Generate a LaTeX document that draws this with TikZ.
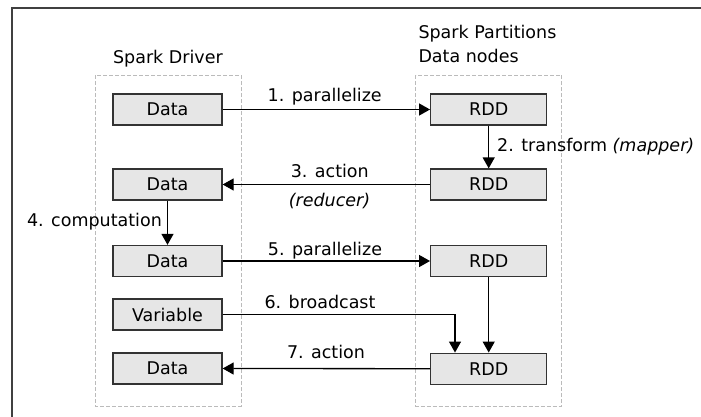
\documentclass[tikz,border=0pt]{standalone}
\usepackage{fontspec}
\setmainfont{DejaVu Sans}
\usetikzlibrary{arrows.meta}
\definecolor{boxfill}{HTML}{E6E6E6}
\definecolor{boxline}{HTML}{333333}
\definecolor{contgray}{HTML}{BBBBBB}
\definecolor{framegray}{HTML}{404040}
\begin{document}
\begin{tikzpicture}[x=1pt,y=-1pt,
  every node/.style={font=\fontsize{17.5}{21}\selectfont},
  box/.style={draw=boxline,fill=boxfill,line width=1.3pt,minimum height=31pt,inner sep=0pt},
  lbox/.style={box,minimum width=109pt},
  rbox/.style={box,minimum width=116pt},
  cont/.style={draw=contgray,line width=0.9pt,dash pattern=on 4pt off 2pt},
  conn/.style={line width=1.3pt,-{Triangle[length=11pt,width=12pt]}},
  lab/.style={inner sep=0pt,anchor=base},
  labw/.style={inner sep=0pt,anchor=base west}]
\useasboundingbox (0,0) rectangle (701,417);
% frame
\draw[framegray,line width=2pt] (702,8.5) -- (12,8.5) -- (12,418);
% containers
\draw[cont] (95,75) rectangle (241,406);
\draw[cont] (415.7,75) rectangle (561.7,406);
% titles
\node[lab] (tdrv) at (167.9,64) {Spark Driver};
\node[labw] (tpart) at (418.3,38.3) {Spark Partitions};
\node[labw] (tdn) at (418.3,63) {Data nodes};
% left boxes
\node[lbox] (d1) at (167.5,109.5) {Data};
\node[lbox] (d2) at (167.5,184.5) {Data};
\node[lbox] (d3) at (167.5,261) {Data};
\node[lbox] (var) at (167.5,314.5) {Variable};
\node[lbox] (d5) at (167.5,368.5) {Data};
% right boxes
\node[rbox] (r1) at (488.7,109.5) {RDD};
\node[rbox] (r2) at (488.7,184.5) {RDD};
\node[rbox] (r3) at (488.7,261) {RDD};
\node[rbox] (r4) at (488.7,368.7) {RDD};
% connectors
\draw[conn] (d1.east) -- (r1.west);
\draw[conn] (r1.south) -- (r2.north);
\draw[conn] (r2.west) -- (d2.east);
\draw[conn] (d2.south) -- (d3.north);
\draw[conn] (d3.east) -- (r3.west);
\coordinate (bc) at (455,314.5);
\draw[conn] (var.east) -- (bc) -- (bc |- r4.north);
\draw[conn] (r3.south) -- (r4.north);
\draw[conn] (r4.west) -- (d5.east);
% labels
\node[lab] (l1) at (324.7,101.7) {1. parallelize};
\node[labw] (l2) at (497,151.7) {2. transform \textit{(mapper)}};
\node[lab] (l3) at (329.8,177.3) {3. action};
\node[lab] (l3b) at (329.5,206) {\textit{(reducer)}};
\node[lab] (l4) at (94.5,226.5) {4. computation};
\node[lab] (l5) at (325,255) {5. parallelize};
\node[lab] (l6) at (320,308.3) {6. broadcast};
\node[lab] (l7) at (326,358.5) {7. action};
\end{tikzpicture}
\end{document}
